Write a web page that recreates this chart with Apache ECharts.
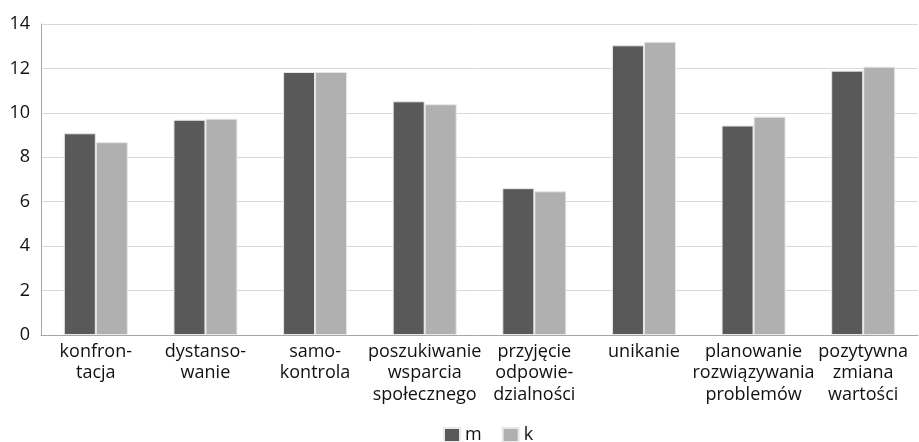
<!DOCTYPE html>
<html><head><meta charset="utf-8">
<script src="https://cdn.jsdelivr.net/npm/echarts@6/dist/echarts.min.js"></script>
<style>html,body{margin:0;padding:0;background:#fff}#c{width:919px;height:442px}</style>
</head><body><div id="c"></div>
<script>
const categories = ["konfron-\ntacja","dystanso-\nwanie","samo-\nkontrola","poszukiwanie\nwsparcia\nspołecznego","przyjęcie\nodpowie-\ndzialności","unikanie","planowanie\nrozwiązywania\nproblemów","pozytywna\nzmiana\nwartości"];
const seriesNames = ["m","k"];
const mValues = [9.08, 9.69, 11.84, 10.52, 6.61, 13.04, 9.43, 11.9];
const kValues = [8.68, 9.74, 11.84, 10.39, 6.47, 13.2, 9.83, 12.08];
const yTicks = {min:0, max:14, interval:2};
const font = "'Open Sans', sans-serif";
const chart = echarts.init(document.getElementById('c'));
chart.setOption({
  animation:false,
  grid:{left:41,right:1,top:24,bottom:107,containLabel:false},
  legend:{data:seriesNames,left:438,top:421,itemWidth:16,itemHeight:14,itemGap:20,icon:'rect',
    textStyle:{fontFamily:font,fontSize:18,color:'#111'}},
  xAxis:{type:'category',data:categories,
    axisLine:{lineStyle:{color:'#a6a6a6',width:1}},axisTick:{show:false},
    axisLabel:{fontFamily:font,fontSize:18,color:'#111',lineHeight:21.5,margin:6,interval:0}},
  yAxis:{type:'value',min:yTicks.min,max:yTicks.max,interval:yTicks.interval,
    axisLine:{show:true,lineStyle:{color:'#a6a6a6',width:1}},axisTick:{show:false},
    splitLine:{lineStyle:{color:'#d9d9d9',width:1}},
    axisLabel:{fontFamily:font,fontSize:18,color:'#111',margin:11}},
  series:[
    {name:seriesNames[0],type:'bar',data:mValues,barWidth:32,barGap:'0%',
     itemStyle:{color:'#595959',borderColor:'#e8e8e8',borderWidth:1}},
    {name:seriesNames[1],type:'bar',data:kValues,barWidth:32,barGap:'0%',
     itemStyle:{color:'#b0b0b0',borderColor:'#e8e8e8',borderWidth:1}}
  ]
});
</script></body></html>
